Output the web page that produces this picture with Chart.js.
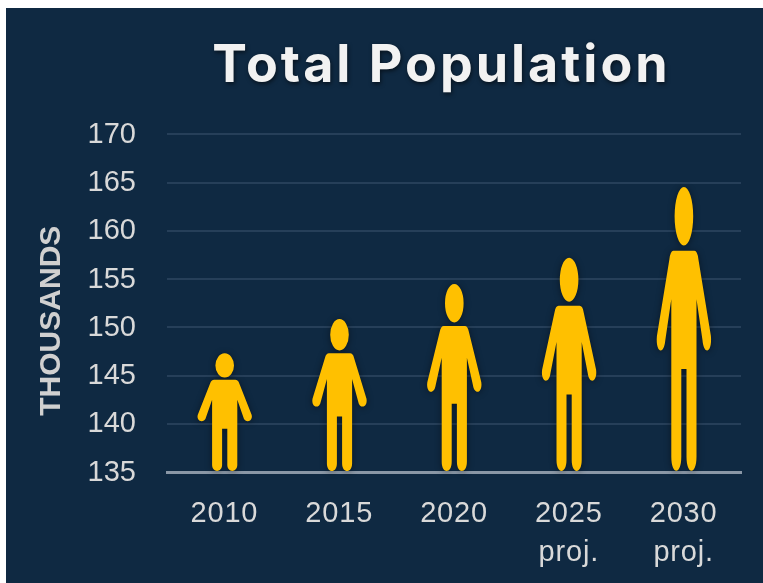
<!DOCTYPE html>
<html>
<head>
<meta charset="utf-8">
<script src="https://cdn.jsdelivr.net/npm/chart.js@4"></script>
<style>
  html, body { margin: 0; padding: 0; background: #fff; overflow: hidden; }
  #frame { position: absolute; left: 6px; top: 8px; width: 757px; height: 575px; background: #0f2942; }
  canvas { display: block; }
</style>
</head>
<body>
<div id="frame"><canvas id="chart" width="757" height="575"></canvas></div>
<script>
const years = [['2010'], ['2015'], ['2020'], ['2025', 'proj.'], ['2030', 'proj.']];
const population = [147.3, 150.85, 154.5, 157.2, 164.55];
const yTicks = [135, 140, 145, 150, 155, 160, 165, 170];

const FIGURE_YELLOW = '#FFC000';

// Traces one standing figure: the width stays constant, the height follows the bar.
function figurePath(cx, top, base) {
  const h = base - top;
  const Y = v => top + v * h;
  const p = new Path2D();

  // head
  p.ellipse(cx, Y(0.103), 9.3, 0.103 * h, 0, 0, Math.PI * 2);
  p.closePath();

  // torso, arms and legs
  p.moveTo(cx - 10.5, Y(0.2245));
  p.lineTo(cx + 10.5, Y(0.2245));
  p.quadraticCurveTo(cx + 13.5, Y(0.2245), cx + 14.5, Y(0.2245 + 0.03));
  p.lineTo(cx + 27, Y(0.525));
  p.bezierCurveTo(cx + 28.5, Y(0.585), cx + 20, Y(0.595), cx + 18.6, Y(0.54));
  p.lineTo(cx + 12.6, Y(0.395));
  p.lineTo(cx + 12.6, Y(0.95));
  p.bezierCurveTo(cx + 12.6, Y(1.016), cx + 2.6, Y(1.016), cx + 2.6, Y(0.95));
  p.lineTo(cx + 2.6, Y(0.641));
  p.lineTo(cx - 2.6, Y(0.641));
  p.lineTo(cx - 2.6, Y(0.95));
  p.bezierCurveTo(cx - 2.6, Y(1.016), cx - 12.6, Y(1.016), cx - 12.6, Y(0.95));
  p.lineTo(cx - 12.6, Y(0.395));
  p.lineTo(cx - 18.6, Y(0.54));
  p.bezierCurveTo(cx - 20, Y(0.595), cx - 28.5, Y(0.585), cx - 27, Y(0.525));
  p.lineTo(cx - 14.5, Y(0.2245 + 0.03));
  p.quadraticCurveTo(cx - 13.5, Y(0.2245), cx - 10.5, Y(0.2245));
  p.closePath();
  return p;
}

// Replaces each bar with a figure built from the bar's own scaled geometry.
const figureBars = {
  id: 'figureBars',
  afterDatasetsDraw(chart) {
    const ctx = chart.ctx;
    ctx.save();
    ctx.fillStyle = FIGURE_YELLOW;
    ctx.shadowColor = 'rgba(0,0,0,0.45)';
    ctx.shadowBlur = 7;
    ctx.shadowOffsetX = 0;
    ctx.shadowOffsetY = 1;
    chart.getDatasetMeta(0).data.forEach(bar => {
      ctx.fill(figurePath(bar.x + 0.3, bar.y, bar.base));
    });
    ctx.restore();
  }
};

// The library has no letter-spacing or offset options for text,
// so the context is prepared around each of its text-drawing methods.
function styledText(owner, method, ctx, style) {
  const draw = owner[method];
  owner[method] = function (...args) {
    ctx.save();
    ctx.letterSpacing = style.spacing || '0px';
    ctx.translate(style.dx || 0, style.dy || 0);
    if (style.shadow) {
      ctx.shadowColor = 'rgba(0,0,0,0.55)';
      ctx.shadowBlur = 4;
      ctx.shadowOffsetX = 1;
      ctx.shadowOffsetY = 2;
    }
    draw.apply(this, args);
    ctx.restore();
  };
}

const textStyling = {
  id: 'textStyling',
  beforeDraw(chart) {
    if (chart.$textStyled) return;
    chart.$textStyled = true;
    styledText(chart.titleBlock, 'draw', chart.ctx, { spacing: '3px', shadow: true, dx: 68, dy: 3 });
    styledText(chart.scales.x, 'drawLabels', chart.ctx, { spacing: '0.8px' });
    styledText(chart.scales.y, 'drawLabels', chart.ctx, { spacing: '0px', dy: 0.5 });
    styledText(chart.scales.y, 'drawTitle', chart.ctx, { dy: 17.5 });
  }
};

new Chart(document.getElementById('chart'), {
  type: 'bar',
  data: {
    labels: years,
    datasets: [{
      label: 'Total Population',
      data: population,
      base: yTicks[0],
      backgroundColor: 'rgba(0,0,0,0)',
      borderWidth: 0,
      barThickness: 54
    }]
  },
  plugins: [figureBars, textStyling],
  options: {
    responsive: false,
    animation: false,
    layout: { padding: { left: 0, right: 22, top: 0, bottom: 0 } },
    plugins: {
      legend: { display: false },
      tooltip: { enabled: false },
      title: {
        display: true,
        text: 'Total Population',
        color: '#f2f2f2',
        font: { family: 'Inter', size: 52, weight: '700' },
        padding: { top: 24, bottom: 40 }
      }
    },
    scales: {
      x: {
        afterFit(scale) { scale.height = 111; },
        grid: { display: false, drawTicks: false },
        border: { color: '#8a97a6', width: 3 },
        ticks: {
          color: '#d9d9d9',
          font: { family: 'Liberation Sans', size: 29, lineHeight: 1.34 },
          padding: 23,
          maxRotation: 0
        }
      },
      y: {
        min: yTicks[0],
        max: yTicks[yTicks.length - 1],
        afterBuildTicks(scale) { scale.ticks = yTicks.map(value => ({ value })); },
        afterFit(scale) { scale.width = 161; },
        grid: { color: '#263f59', lineWidth: 2, drawTicks: false },
        border: { display: false },
        ticks: {
          color: '#d9d9d9',
          font: { family: 'Liberation Sans', size: 29 },
          padding: 31
        },
        title: {
          display: true,
          text: 'THOUSANDS',
          color: '#d0d0d0',
          font: { family: 'Liberation Sans', size: 30, weight: '700' },
          padding: { top: 28, bottom: 0 }
        }
      }
    }
  }
});
</script>
</body>
</html>
